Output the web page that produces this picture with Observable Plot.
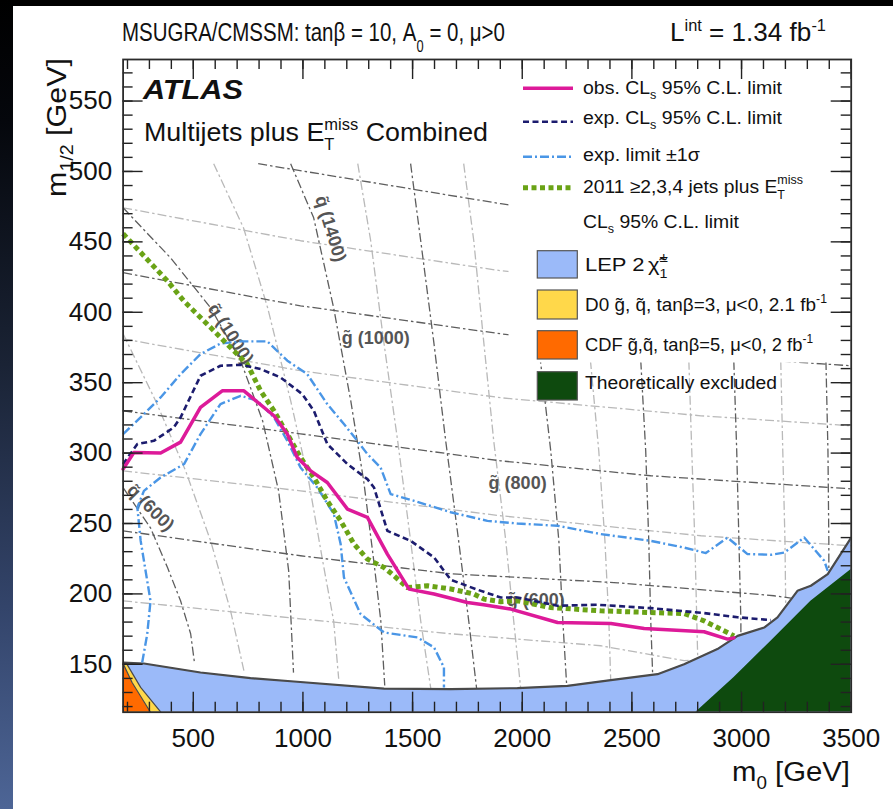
<!DOCTYPE html>
<html>
<head>
<meta charset="utf-8">
<script src="https://cdn.jsdelivr.net/npm/d3@7"></script>
<script src="https://cdn.jsdelivr.net/npm/@observablehq/plot@0.6"></script>
<style>
  body { margin: 0; background: #000; }
  #page { position: relative; width: 893px; height: 809px; background: #fff; overflow: hidden; }
  #topbar { position: absolute; left: 0; top: 0; width: 893px; height: 6px; background: #000; }
  #sidebar { position: absolute; left: 0; top: 0; width: 13px; height: 809px;
    background: linear-gradient(to bottom, #000 0%, #05070c 15%, #1a2335 45%, #33446a 75%, #4d6596 100%); }
  #chart { position: absolute; left: 0; top: 0; }
</style>
</head>
<body>
<div id="page"><div id="topbar"></div><div id="sidebar"></div><div id="chart"></div></div>
<script>
// ---- axes ----
const X_DOMAIN = [180, 3500];
const Y_DOMAIN = [116, 579.5];
const xTickLabels = [500, 1000, 1500, 2000, 2500, 3000, 3500];
const yTickLabels = [150, 200, 250, 300, 350, 400, 450, 500, 550];
const xMinorTicks = d3.range(200, 3501, 100);
const yMinorTicks = d3.range(120, 580, 10);

// ---- exclusion contours, [m0, m1/2] in GeV ----
const obsLimit = [[180,288.6],[229,300.4],[351,300],[442,307.8],[533,332.4],[632,344.2],[731,344.2],[868,326.5],[929,313.5],[974,296.9],[1035,287.4],[1111,279.1],[1203,260.2],[1294,254.3],[1385,228.3],[1484,203.4],[1598,199.9],[1750,193.9],[1824,192.3],[1902,190.4],[1948,189.2],[2161,179.7],[2404,179],[2556,175.4],[2829,173.1],[2936,167.9],[2965,168.8]];
const expLimit = [[180,292.2],[245,306.4],[320,308.7],[411,318.2],[442,325.3],[533,354.9],[624,362],[716,362.7],[807,359.7],[898,353.7],[997,341.9],[1050,330],[1111,306.4],[1203,292.2],[1294,281.5],[1324,275.6],[1385,244.8],[1491,237.7],[1598,225.9],[1674,210],[1796,203],[1902,197.4],[1978,197.4],[2161,191.6],[2343,192.3],[2586,189.9],[2829,186.4],[2982,183.4],[3134,181.4]];
const expPlus1Sigma = [[180,313.5],[275,327.7],[351,339.5],[442,356],[533,370.3],[624,377.8],[716,379.3],[838,379.3],[929,365.6],[1020,356],[1111,334.8],[1187,320.6],[1248,308.7],[1294,299.3],[1354,289.8],[1400,270.9],[1507,266.1],[1674,258],[1841,251.9],[1978,250],[2161,248.4],[2358,242.5],[2586,237.7],[2738,232.9],[2837,229],[2936,240],[3027,228.3],[3134,227.8],[3195,229.4],[3286,240],[3377,223.5],[3393,216.4]];
const expMinus1Sigma = [[267,151.3],[290,171.4],[305,195],[260,237.8],[245,261.4],[275,273.2],[351,282.7],[458,292.2],[533,313.5],[624,334.8],[716,340.7],[792,337.2],[868,325.3],[929,308.7],[989,289.8],[1065,275.6],[1141,256.7],[1172,235.4],[1187,211.7],[1263,185.7],[1370,172.6],[1522,169.1],[1598,162],[1643,147.8],[1643,133.5]];
const limit2011 = [[180,455.8],[381,422.4],[457,408],[579,389.2],[685,372.6],[746,363.2],[807,344.2],[868,330],[929,313.5],[989,296.9],[1050,282.7],[1111,266.1],[1172,251.9],[1233,235.4],[1294,224.7],[1370,218.8],[1415,212.9],[1476,204.5],[1568,205.8],[1674,203.5],[1780,199.9],[1826,196.3],[1902,194.5],[1978,195.1],[2130,190.3],[2358,188],[2586,186.8],[2738,186.1],[2829,180.9],[2890,176.1],[2966,170.2]];

// ---- excluded regions (upper edge of each filled area) ----
const lepEdge = [[180,151.3],[275,150.6],[533,144.2],[761,140.2],[959,137.8],[1370,132.8],[1674,132.4],[1978,133.1],[2206,134.7],[2404,138.8],[2617,143],[2738,150.1],[2890,160.8],[2982,170.2],[3103,176.1],[3164,183.3],[3255,202.2],[3316,205.8],[3393,214.1],[3500,240]];
const d0Edge = [[180,150.5],[196,150.5],[260,133.6],[352,116]];
const cdfEdge = [[180,150.5],[221,137.1],[305,116]];
const theoryEdge = [[2792,116],[2966,140.6],[3134,166.4],[3316,194.8],[3500,217.3]];

// ---- iso-mass contours (squark and gluino masses, GeV) ----
const squarkContours = [
  {mass: 600,  pts: [[180,275.4],[305,246.9],[383,218.5],[442,195.1],[488,171.7],[506,150.5]]},
  {mass: 800,  pts: [[180,384.7],[328,337.2],[465,287.4],[579,237.7],[670,188],[731,145.4]]},
  {mass: 1000, pts: [[180,474.2],[396,438.7],[579,403.2],[716,365.6],[816,323],[889,273.2],[935,216.4],[957,144.1]]},
  {mass: 1200, pts: [[593,505.5],[729,460],[839,403.2],[944,337.2],[1026,280.3],[1090,223.5],[1140,180.9],[1163,139.8]]},
  {mass: 1400, pts: [[944,505.5],[1049,467.1],[1140,403.2],[1218,337.2],[1277,280.3],[1323,223.5],[1355,180.9],[1373,134.9]]},
  {mass: 1600, pts: [[1250,505.5],[1309,450.8],[1368,379.7],[1432,308.7],[1491,237.7],[1537,180.9],[1583,132.8]]},
  {mass: 1800, pts: [[1491,505.5],[1537,450.8],[1596,379.7],[1651,308.7],[1710,237.7],[1756,180.9],[1792,132.8]]},
  {mass: 2000, pts: [[1733,505.5],[1779,450.8],[1824,379.7],[1870,308.7],[1925,237.7],[1961,180.9],[1993,132.8]]},
  {mass: 2200, pts: [[1971,505.5],[2030,440],[2084,364.1],[2130,301.6],[2167,237.7],[2185,180.9],[2203,134.2]]},
  {mass: 2400, pts: [[2250,440],[2312,364.1],[2349,301.6],[2377,237.7],[2395,180.9],[2404,135.6]]},
  {mass: 2600, pts: [[2500,440],[2541,364.1],[2563,301.6],[2577,237.7],[2586,180.9],[2595,141.3]]},
  {mass: 2800, pts: [[2740,440],[2760,364.1],[2773,301.6],[2787,237.7],[2796,180.9],[2801,149.1]]},
  {mass: 3000, pts: [[2950,440],[2965,364.1],[2978,301.6],[2988,237.7],[2997,180.9],[2997,168.8]]},
  {mass: 3200, pts: [[3170,440],[3179,364.1],[3188,301.6],[3198,237.7],[3202,184.5]]},
  {mass: 3400, pts: [[3380,440],[3385,364.1],[3394,301.6],[3398,237.7],[3398,215]]}
];
const gluinoContours = [
  {mass: 1200, pts: [[796,505.5],[1902,477.1],[3500,440]]},
  {mass: 1100, pts: [[180,474.2],[989,450.8],[1902,429.5],[3500,405]]},
  {mass: 1000, pts: [[180,428.1],[989,404.6],[1902,384.7],[2815,369.1],[3500,362]]},
  {mass: 900,  pts: [[180,381.1],[989,358.5],[1902,339.3],[2815,326.5],[3500,319.4]]},
  {mass: 800,  pts: [[180,330],[989,313.7],[1902,294.5],[2586,283.9],[3500,274.6]]},
  {mass: 700,  pts: [[180,287.4],[989,273.2],[1902,255.5],[2815,241.3],[3500,234.2]]},
  {mass: 600,  pts: [[180,244.8],[989,227.1],[1674,214.3],[2436,207.9],[3148,198.7],[3225,197]]},
  {mass: 500,  pts: [[180,195.1],[989,182.3],[1674,171.7],[2358,163.2],[2738,152.6],[2770,153]]}
];
const contourLabels = [
  {label: "q̃ (1400)", m0: 1126, m12: 459.3, angle: 73},
  {label: "q̃ (1000)", m0: 670, m12: 384.7, angle: 57},
  {label: "q̃ (600)", m0: 305, m12: 261.2, angle: 45},
  {label: "g̃ (1000)", m0: 1332, m12: 381.9, angle: 0},
  {label: "g̃ (800)", m0: 1979, m12: 278.9, angle: 0},
  {label: "g̃ (600)", m0: 2062, m12: 195.8, angle: 0}
];

// ---- styles ----
const FONT = "'Liberation Sans', Arial, Helvetica, sans-serif";
const C = {
  obs: "#dd1a99", exp: "#1c1c6e", sigma: "#4a96e6", y2011: "#6aa316",
  lep: "#9bbaf9", d0: "#ffd84a", cdf: "#ff6a00", theory: "#0e4a0e",
  gridDark: "#5e5e5e", gridLight: "#b9b9b9", edge: "#4a4a4a"
};
const DASH = { exp: "6,3.5", sigma: "9,3,2,3", y2011: "5,3.5", grid: "9,3,2.5,3" };

const toRows = (pts) => pts.map(([m0, m12]) => ({m0, m12}));
const gridRows = [
  ...squarkContours.flatMap(c => c.pts.map(([m0, m12]) => ({id: "q" + c.mass, m0, m12, dark: c.mass % 400 === 200}))),
  ...gluinoContours.flatMap(c => c.pts.map(([m0, m12]) => ({id: "g" + c.mass, m0, m12, dark: c.mass % 200 === 0})))
];

const W = 893, H = 809, mL = 122.6, mR = 42.3, mT = 59, mB = 97.3;
const FW = W - mL - mR, FH = H - mT - mB;
const yBase = Y_DOMAIN[0];
const TICK_MAJ = 20, TICK_MIN = 10, TICK_STROKE = "#222";
const butt = {strokeLinecap: "butt", strokeLinejoin: "round"};

const plot = Plot.plot({
  width: W, height: H,
  marginLeft: mL, marginRight: mR, marginTop: mT, marginBottom: mB,
  x: {domain: X_DOMAIN},
  y: {domain: Y_DOMAIN},
  style: {fontFamily: FONT, fontSize: "26px", background: "transparent", color: "#111", overflow: "visible"},
  marks: [
    // iso-mass grid
    Plot.line(gridRows.filter(d => !d.dark), {x: "m0", y: "m12", z: "id", stroke: C.gridLight, strokeWidth: 1.3, strokeDasharray: DASH.grid, clip: true, ...butt}),
    Plot.line(gridRows.filter(d => d.dark), {x: "m0", y: "m12", z: "id", stroke: C.gridDark, strokeWidth: 1.3, strokeDasharray: DASH.grid, clip: true, ...butt}),
    Plot.text(contourLabels, {x: "m0", y: "m12", text: "label", rotate: "angle", fill: "#555", fontSize: 18, fontWeight: "bold"}),
    // legend background
    Plot.frame({fill: "white", stroke: "none", insetLeft: 508 - mL, insetBottom: (mT + FH) - 362}),
    // excluded regions
    Plot.areaY(toRows(lepEdge), {x: "m0", y1: yBase, y2: "m12", fill: C.lep, clip: true}),
    Plot.areaY(toRows(d0Edge), {x: "m0", y1: yBase, y2: "m12", fill: C.d0, clip: true}),
    Plot.line(toRows(d0Edge), {x: "m0", y: "m12", stroke: C.edge, strokeWidth: 1.2, clip: true}),
    Plot.areaY(toRows(cdfEdge), {x: "m0", y1: yBase, y2: "m12", fill: C.cdf, clip: true}),
    Plot.line(toRows(cdfEdge), {x: "m0", y: "m12", stroke: C.edge, strokeWidth: 1.2, clip: true}),
    Plot.areaY(toRows(theoryEdge), {x: "m0", y1: yBase, y2: "m12", fill: C.theory, clip: true}),
    Plot.line(toRows(lepEdge), {x: "m0", y: "m12", stroke: C.edge, strokeWidth: 2.2, clip: true}),
    // limits
    Plot.line(toRows(expMinus1Sigma), {x: "m0", y: "m12", stroke: C.sigma, strokeWidth: 2.4, strokeDasharray: DASH.sigma, ...butt}),
    Plot.line(toRows(expPlus1Sigma), {x: "m0", y: "m12", stroke: C.sigma, strokeWidth: 2.4, strokeDasharray: DASH.sigma, ...butt}),
    Plot.line(toRows(limit2011), {x: "m0", y: "m12", stroke: C.y2011, strokeWidth: 5, strokeDasharray: DASH.y2011, ...butt}),
    Plot.line(toRows(expLimit), {x: "m0", y: "m12", stroke: C.exp, strokeWidth: 2.6, strokeDasharray: DASH.exp, ...butt}),
    Plot.line(toRows(obsLimit), {x: "m0", y: "m12", stroke: C.obs, strokeWidth: 3.5}),
    // inward ticks on all four sides
    Plot.ruleX(xMinorTicks, {insetTop: FH - TICK_MIN, stroke: TICK_STROKE, strokeWidth: 1.4}),
    Plot.ruleX(xTickLabels, {insetTop: FH - TICK_MAJ, stroke: TICK_STROKE, strokeWidth: 1.4}),
    Plot.ruleX(xMinorTicks, {insetBottom: FH - TICK_MIN, stroke: TICK_STROKE, strokeWidth: 1.4}),
    Plot.ruleX(xTickLabels, {insetBottom: FH - TICK_MAJ, stroke: TICK_STROKE, strokeWidth: 1.4}),
    Plot.ruleY(yMinorTicks, {insetRight: FW - TICK_MIN, stroke: TICK_STROKE, strokeWidth: 1.4}),
    Plot.ruleY(yTickLabels, {insetRight: FW - TICK_MAJ, stroke: TICK_STROKE, strokeWidth: 1.4}),
    Plot.ruleY(yMinorTicks, {insetLeft: FW - TICK_MIN, stroke: TICK_STROKE, strokeWidth: 1.4}),
    Plot.ruleY(yTickLabels, {insetLeft: FW - TICK_MAJ, stroke: TICK_STROKE, strokeWidth: 1.4}),
    Plot.frame({stroke: "#2b2b2b", strokeWidth: 1.8}),
    Plot.axisX(xTickLabels, {anchor: "bottom", tickSize: 0, tickPadding: 16, fontSize: 26, label: null, tickFormat: d => String(d)}),
    Plot.axisY(yTickLabels, {anchor: "left", tickSize: 0, tickPadding: 11, fontSize: 26, label: null, tickFormat: d => String(d)})
  ]
});
document.getElementById("chart").append(plot);
const svg = d3.select(plot);

// text with sub/superscripts: parts are laid out left to right; "stack" parts share the previous part's x.
// "fit" stretches or squeezes the run horizontally to the given width.
function rich(parent, x, y, parts, {anchor = "start", size = 16, weight = null, fontStyle = null, fill = "#111", rotate = 0, fit = null} = {}) {
  const g = parent.append("g").attr("font-family", FONT).attr("fill", fill).attr("text-anchor", "start");
  if (weight) g.attr("font-weight", weight);
  if (fontStyle) g.attr("font-style", fontStyle);
  let cx = 0, prevStart = 0;
  for (const p of parts) {
    const start = p.stack ? prevStart : cx + (p.dx || 0);
    const t = g.append("text")
      .attr("x", start).attr("y", p.shift || 0)
      .attr("text-anchor", "start")
      .attr("font-size", p.size || size)
      .style("white-space", "pre")
      .text(p.text);
    const w = t.node().getComputedTextLength();
    if (p.stack) cx = Math.max(cx, start + w);
    else { prevStart = start; cx = start + w; }
  }
  const k = fit ? fit / cx : 1;
  const off = anchor === "end" ? -cx : anchor === "middle" ? -cx / 2 : 0;
  g.attr("transform", `translate(${x},${y}) rotate(${rotate}) scale(${k},1) translate(${off},0)`);
  return g;
}

// titles and axis labels
rich(svg, 122, 41, [{text: "MSUGRA/CMSSM: tanβ = 10, A"}, {text: "0", size: 16, shift: 11}, {text: " = 0, μ>0"}], {size: 25.5, fit: 383});
rich(svg, 670, 41, [{text: "L"}, {text: "int", size: 16, shift: -10}, {text: " = 1.34 fb"}, {text: "-1", size: 16, shift: -10}], {size: 25.5, fit: 156});
rich(svg, 850, 781, [{text: "m"}, {text: "0", size: 18, shift: 8}, {text: " [GeV]"}], {anchor: "end", size: 28, fit: 118});
rich(svg, 66, 58, [{text: "m"}, {text: "1/2", size: 18, shift: 7}, {text: " [GeV]"}], {anchor: "end", size: 28, rotate: -90, fit: 139});
rich(svg, 143, 99, [{text: "ATLAS"}], {size: 28, weight: "bold", fontStyle: "italic", fit: 100});
rich(svg, 144, 141, [{text: "Multijets plus E"}, {text: "miss", size: 16, shift: -11}, {text: "T", size: 16, shift: 9, stack: true}, {text: " Combined"}], {size: 26, fit: 344});

// legend
const LG = 18.5, SUB = 12;
const legendLines = [
  {y: 88.3, base: 94, stroke: C.obs, width: 3.5, dash: null, fit: 199,
   parts: [{text: "obs. CL"}, {text: "s", size: SUB, shift: 5}, {text: " 95% C.L. limit"}]},
  {y: 121.7, base: 123.5, stroke: C.exp, width: 2.6, dash: DASH.exp, fit: 199,
   parts: [{text: "exp. CL"}, {text: "s", size: SUB, shift: 5}, {text: " 95% C.L. limit"}]},
  {y: 156.7, base: 161, stroke: C.sigma, width: 2.4, dash: DASH.sigma, fit: 117,
   parts: [{text: "exp. limit ±1σ"}]},
  {y: 187.7, base: 193, stroke: C.y2011, width: 5, dash: DASH.y2011, fit: 220,
   parts: [{text: "2011 ≥2,3,4 jets plus E"}, {text: "miss", size: SUB, shift: -9}, {text: "T", size: SUB, shift: 6, stack: true}]},
  {y: null, base: 227.5, fit: 156, parts: [{text: "CL"}, {text: "s", size: SUB, shift: 5}, {text: " 95% C.L. limit"}]}
];
const legend = svg.append("g");
for (const r of legendLines) {
  if (r.y != null) {
    legend.append("line").attr("x1", 523).attr("x2", 573).attr("y1", r.y).attr("y2", r.y)
      .attr("stroke", r.stroke).attr("stroke-width", r.width).attr("stroke-dasharray", r.dash)
      .attr("stroke-linecap", "butt");
  }
  rich(legend, 583, r.base, r.parts, {size: LG, fit: r.fit});
}
const legendBoxes = [
  {y0: 250.7, y1: 278, base: 271, fill: C.lep, fit: 83,
   parts: [{text: "LEP 2"}, {text: "χ̃", dx: 3}, {text: "±", size: 13, shift: -9}, {text: "1", size: SUB, shift: 7, stack: true}]},
  {y0: 290, y1: 319, base: 311, fill: C.d0, fit: 242,
   parts: [{text: "D0 g̃, q̃, tanβ=3, μ<0, 2.1 fb"}, {text: "-1", size: SUB, shift: -8}]},
  {y0: 330.7, y1: 359, base: 351, fill: C.cdf, fit: 228,
   parts: [{text: "CDF g̃,q̃, tanβ=5, μ<0, 2 fb"}, {text: "-1", size: SUB, shift: -8}]},
  {y0: 371.7, y1: 400, base: 389, fill: C.theory, fit: 192,
   parts: [{text: "Theoretically excluded"}]}
];
for (const b of legendBoxes) {
  legend.append("rect").attr("x", 537.3).attr("y", b.y0).attr("width", 40).attr("height", b.y1 - b.y0)
    .attr("fill", b.fill).attr("stroke", "#555").attr("stroke-width", 1.2);
  rich(legend, 585, b.base, b.parts, {size: LG, fit: b.fit});
}
</script>
</body>
</html>
